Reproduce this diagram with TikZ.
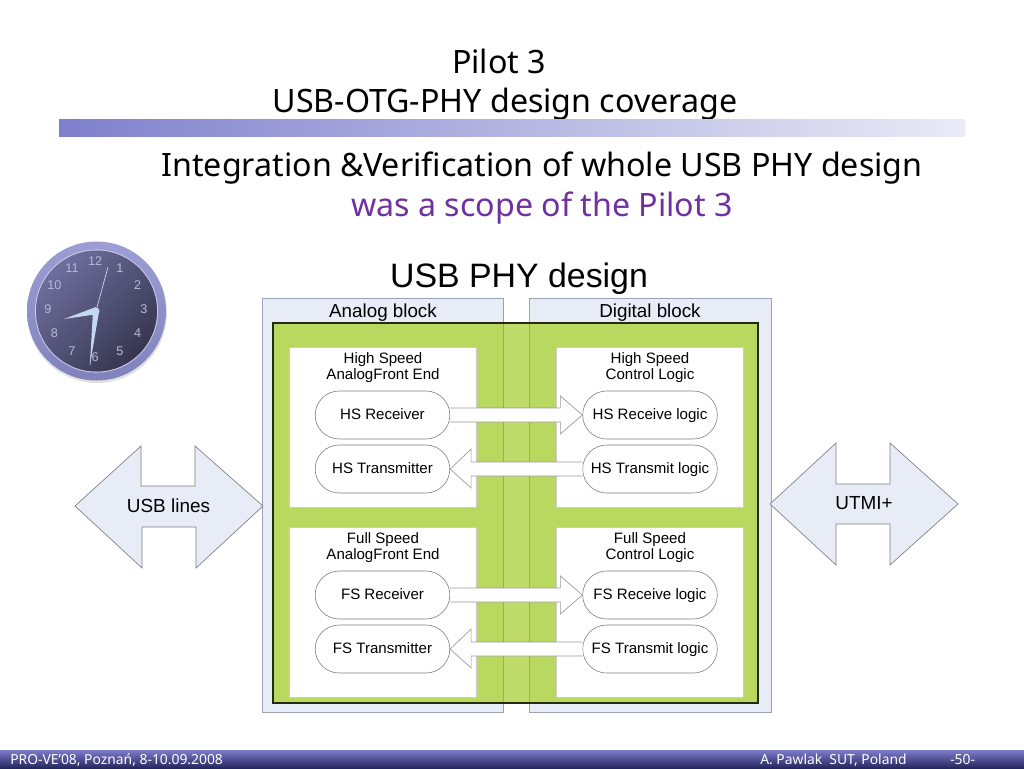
\documentclass[tikz,border=0pt]{standalone}
\usepackage{fontspec}
\setmainfont{Liberation Sans}
\newfontfamily\tahomalike{Noto Sans}
\usetikzlibrary{shapes.misc,calc}
\definecolor{blockblue}{HTML}{E8ECF6}
\definecolor{blockedge}{HTML}{9AA2B4}
\definecolor{greenfill}{HTML}{B9D85F}
\definecolor{greenband}{HTML}{BFDB69}
\definecolor{purpletext}{HTML}{7030A0}
\definecolor{barleft}{HTML}{7F80CC}
\definecolor{barright}{HTML}{EAEAF7}
\definecolor{foottop}{HTML}{7C7CCB}
\definecolor{footbot}{HTML}{26265E}
\definecolor{ringtop}{HTML}{9C9ED4}
\definecolor{ringbot}{HTML}{8082BC}
\definecolor{facea}{HTML}{6E6E9E}
\definecolor{faceb}{HTML}{36364F}
\definecolor{numcol}{HTML}{B8B9D8}
\definecolor{handcol}{HTML}{C4D8F0}
\tikzset{
  x=0.75pt,y=-0.75pt,
  blockbox/.style={draw=blockedge,fill=blockblue,line width=0.6pt,minimum width=#1,minimum height=310.5pt,inner sep=0,outer sep=0,anchor=north west},
  innerbox/.style={fill=white,draw=white!80!black,line width=0.3pt,inner sep=0,outer sep=0,anchor=north west},
  pill/.style={rounded rectangle,draw=black!50,fill=white,line width=0.45pt,minimum width=101pt,minimum height=36pt,inner sep=0,text height=1.5ex,text depth=0.3ex,font=\fontsize{11.3}{13}\selectfont},
  bigarrow/.style={draw=black!50,fill=blockblue,line width=0.5pt,line join=miter},
  flow/.style={draw=black!40,fill=white!96!blockblue,line width=0.5pt,line join=miter},
  boxtitle/.style={align=center,font=\fontsize{11.3}{12.4}\selectfont,inner sep=0},
  blocktitle/.style={font=\fontsize{14.1}{16}\selectfont,inner sep=0},
  arrowtext/.style={inner sep=0,font=\fontsize{14.2}{16}\selectfont},
  heading/.style={inner sep=0,font=\tahomalike\fontsize{24.15}{28}\selectfont},
  clocknum/.style={text=numcol,font=\fontsize{9.5}{10}\selectfont,inner sep=0},
  foot/.style={text=white,font=\tahomalike\fontsize{10.4}{12}\selectfont,inner sep=0},
}
\begin{document}
\begin{tikzpicture}
\useasboundingbox (0,0) rectangle (1024,768);
\fill[white] (0,0) rectangle (1024,768);
% header
\node[heading] (t1) at (499,61) {Pilot 3};
\node[heading] (t2) at (505,104) {USB-OTG-PHY design coverage};
\shade[left color=barleft,right color=barright] (59,119) rectangle (965,136);
\node[heading] (s1) at (542,168) {Integration \&Verification of whole USB PHY design};
\node[heading,text=purpletext] (s2) at (542,208) {was a scope of the Pilot 3};
\node[inner sep=0,font=\fontsize{25.4}{28}\selectfont] (phy) at (519,279) {USB PHY design};
% footer
\shade[top color=foottop,bottom color=footbot] (0,750) rectangle (1024,768);
\node[foot,anchor=west] (f1) at (10,760) {PRO-VE’08, Poznań, 8-10.09.2008};
\node[foot,anchor=west] (f2) at (760,760) {A. Pawlak\ \ SUT, Poland};
\node[foot,anchor=west] (f3) at (950,760) {-50-};
% clock
\fill[black!12] (97,313) circle (70);
\shade[top color=ringtop,bottom color=ringbot] (96.5,311) circle (69.5);
\draw[ringtop!55!white,line width=0.8pt] (96.5,311) circle (61);
\shade[top color=facea,bottom color=faceb,shading angle=45] (96.5,311) circle (60.5);
\foreach \n/\a in {12/91,1/60,2/30,3/0,4/-30,5/-60,6/-91,7/-120,8/-150,9/180,10/150,11/120}
  \node[clocknum] (c\n) at ($(96,309.5)+(-\a:48)$) {\n};
\fill[handcol] (96,307) -- (64,319) -- (98,314) -- cycle;
\fill[handcol] (93,311) -- (90,364) -- (99,312) -- cycle;
\draw[handcol,line width=0.5pt] (96,311) -- (108,267);
\draw[handcol,line width=0.5pt] (96,311) -- (90,365);
\fill[handcol] (96,311) circle (3.5);
% blocks
\node[blockbox=181pt] (analog) at (262,298) {};
\node[blockbox=181.5pt] (digital) at (529,298) {};
\node[blocktitle] at (383,313) {Analog block};
\node[blocktitle] at (650,313) {Digital block};
\fill[greenfill] (273,323) rectangle (758,703);
\fill[greenband] (503,323.5) rectangle (529,702.5);
\draw[black!18!greenfill,line width=0.5pt] (503,323.5) -- (503,702.5) (529,323.5) -- (529,702.5);
\draw[black!80!greenfill,line width=1.2pt] (273,323) rectangle (758,703);
% inner boxes
\node[innerbox,minimum width=140.25pt,minimum height=120pt] (hsa) at (289,347) {};
\node[innerbox,minimum width=140.5pt,minimum height=120pt] (hsd) at (556,347) {};
\node[innerbox,minimum width=140.25pt,minimum height=127.5pt] (fsa) at (289,527) {};
\node[innerbox,minimum width=140.5pt,minimum height=127.5pt] (fsd) at (556,527) {};
\node[boxtitle] at (383,367.5) {High Speed\\AnalogFront End};
\node[boxtitle] at (650,367.5) {High Speed\\Control Logic};
\node[boxtitle] at (383,547.5) {Full Speed\\AnalogFront End};
\node[boxtitle] at (650,547.5) {Full Speed\\Control Logic};
% pills
\node[pill] (hsr) at (382.5,415) {HS Receiver};
\node[pill] (hst) at (382.5,469) {HS Transmitter};
\node[pill] (fsr) at (382.5,595) {FS Receiver};
\node[pill] (fst) at (382.5,649) {FS Transmitter};
\node[pill] (hsrl) at (650,415) {HS Receive logic};
\node[pill] (hstl) at (650,469) {HS Transmit logic};
\node[pill] (fsrl) at (650,595) {FS Receive logic};
\node[pill] (fstl) at (650,649) {FS Transmit logic};
% flow arrows
\foreach \a/\b in {hsr/hsrl,fsr/fsrl}
  \draw[flow] ($(\a.east)+(0,-7)$) -- ($(\b.west)+(-22,-7)$) -- ($(\b.west)+(-22,-19)$) -- (\b.west) -- ($(\b.west)+(-22,19)$) -- ($(\b.west)+(-22,7)$) -- ($(\a.east)+(0,7)$);
\foreach \a/\b in {hstl/hst,fstl/fst}
  \draw[flow] ($(\a.west)+(0,-7)$) -- ($(\b.east)+(21,-7)$) -- ($(\b.east)+(21,-20)$) -- (\b.east) -- ($(\b.east)+(21,19)$) -- ($(\b.east)+(21,7)$) -- ($(\a.west)+(0,7)$);
% side arrows
\coordinate (ul) at (75,506);
\coordinate (ur) at (263,506);
\draw[bigarrow] (ul) -- (141,446) -- (141,486) -- (195,486) -- (195,446) -- (ur) -- (196,568) -- (196,527) -- (142,527) -- (142,568) -- cycle;
\node[arrowtext] (usb) at (168.5,506) {USB lines};
\coordinate (tl) at (770,504);
\coordinate (tr) at (958,504);
\draw[bigarrow] (tl) -- (836,443) -- (836,484) -- (890,484) -- (890,443) -- (tr) -- (890,565) -- (890,524) -- (836,524) -- (836,565) -- cycle;
\node[arrowtext] (utmi) at (864,503) {UTMI+};
\end{tikzpicture}
\end{document}
